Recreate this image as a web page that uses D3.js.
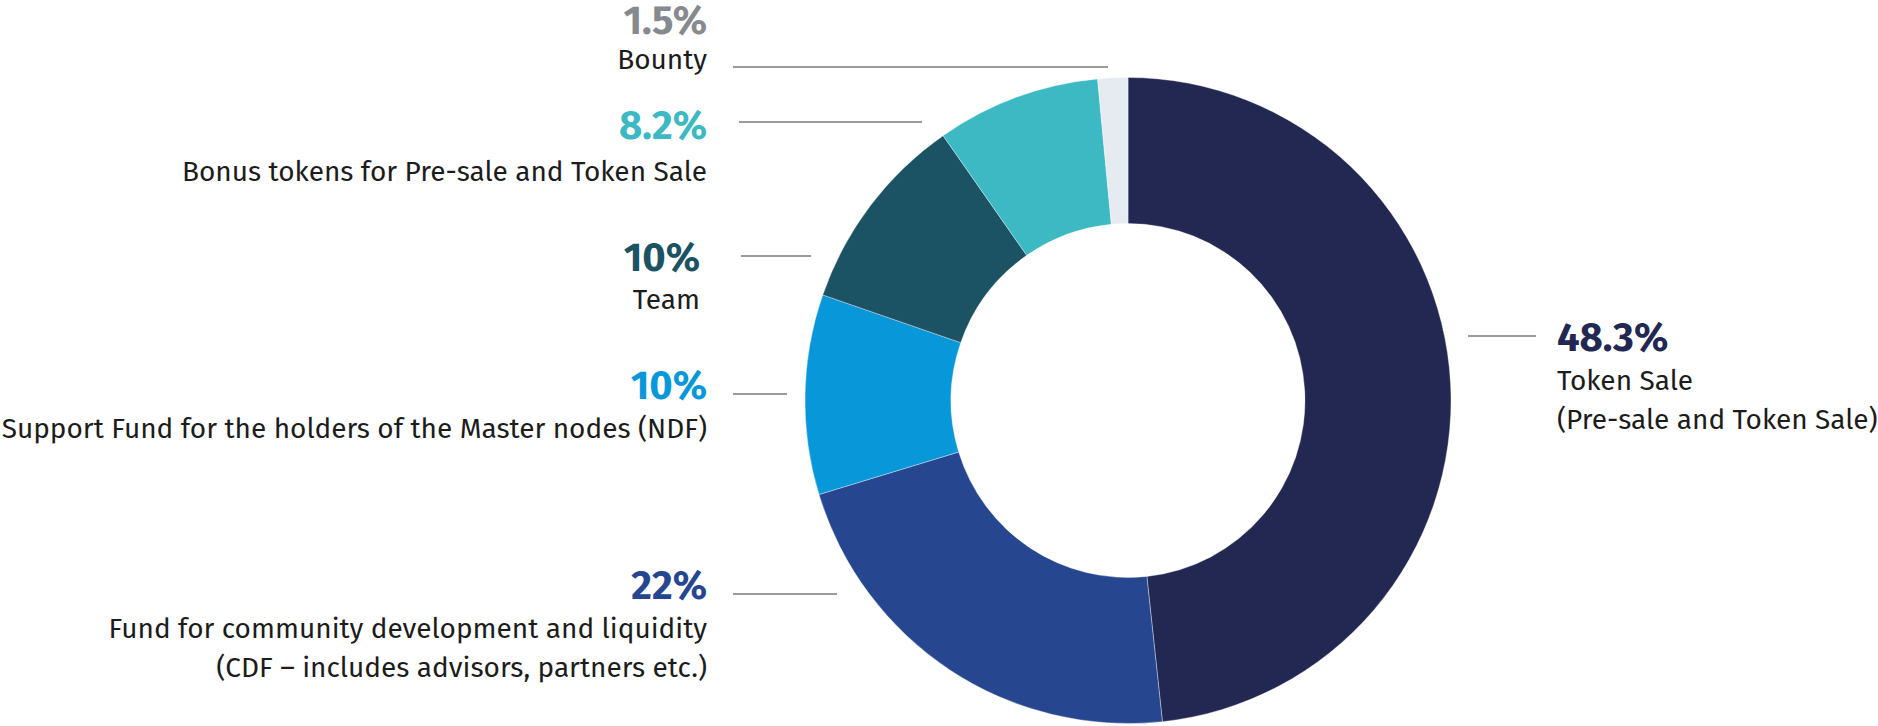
<!DOCTYPE html>
<html>
<head>
<meta charset="utf-8">
<script src="https://cdn.jsdelivr.net/npm/d3@7"></script>
<style>
  html, body { margin: 0; padding: 0; background: #ffffff; }
  svg { display: block; }
  text { font-family: "Fira Sans", Lato, "Open Sans", sans-serif; }
</style>
</head>
<body>
<svg id="chart" width="1878" height="726"></svg>
<script>
// ---- data ----
const categories = [
  "Token Sale",
  "Fund for community development and liquidity",
  "Support Fund for the holders of the Master nodes (NDF)",
  "Team",
  "Bonus tokens for Pre-sale and Token Sale",
  "Bounty"
];
const values = [48.3, 22, 10, 10, 8.2, 1.5];
const percentLabels = ["48.3%", "22%", "10%", "10%", "8.2%", "1.5%"];
const labelLines = [
  ["Token Sale", "(Pre-sale and Token Sale)"],
  ["Fund for community development and liquidity", "(CDF – includes advisors, partners etc.)"],
  ["Support Fund for the holders of the Master nodes (NDF)"],
  ["Team"],
  ["Bonus tokens for Pre-sale and Token Sale"],
  ["Bounty"]
];

// ---- styles ----
const sliceColors = ["#222852", "#26468f", "#0897d8", "#1b5364", "#3cb9c3", "#e5ebf0"];
const pctColors   = ["#222852", "#26468f", "#0897d8", "#1b5364", "#3cb9c3", "#868a8e"];

// ---- layout (label anchors & leader lines) ----
const layout = [
  { side: "right", x: 1557, y: 351, gap: 39, lineX1: 1468, lineX2: 1536, lineY: 336 },
  { side: "left",  x: 707,  y: 599, gap: 39, lineX1: 733,  lineX2: 837,  lineY: 594 },
  { side: "left",  x: 707,  y: 399, gap: 39, lineX1: 733,  lineX2: 787,  lineY: 394 },
  { side: "left",  x: 700,  y: 271, gap: 38, lineX1: 741,  lineX2: 811,  lineY: 256 },
  { side: "left",  x: 707,  y: 139, gap: 42, lineX1: 739,  lineX2: 922,  lineY: 122 },
  { side: "left",  x: 707,  y: 34,  gap: 35, lineX1: 733,  lineX2: 1108, lineY: 67 }
];

const cx = 1128, cy = 400.5, outerR = 323, innerR = 177;
const pctSize = 40, labelSize = 28;

const svg = d3.select("#chart");
const g = svg.append("g").attr("transform", `translate(${cx},${cy})`);

const pie = d3.pie().sort(null).value(d => d).startAngle(0).endAngle(2 * Math.PI);
const arc = d3.arc().innerRadius(innerR).outerRadius(outerR);

g.selectAll("path.slice")
  .data(pie(values))
  .join("path")
  .attr("class", "slice")
  .attr("d", arc)
  .attr("fill", (d, i) => sliceColors[i])
  .attr("stroke", "#ffffff")
  .attr("stroke-opacity", 0.6)
  .attr("stroke-width", 0.6);

// leader lines
svg.selectAll("line.leader")
  .data(layout)
  .join("line")
  .attr("class", "leader")
  .attr("x1", d => d.lineX1)
  .attr("x2", d => d.lineX2)
  .attr("y1", d => d.lineY)
  .attr("y2", d => d.lineY)
  .attr("stroke", "#9b9b9b")
  .attr("stroke-width", 2);

// labels
const groups = svg.selectAll("g.lab")
  .data(categories)
  .join("g")
  .attr("class", "lab");

groups.each(function (c, i) {
  const L = layout[i];
  const anchor = L.side === "left" ? "end" : "start";
  const sel = d3.select(this);
  sel.append("text")
    .attr("x", L.x)
    .attr("y", L.y)
    .attr("text-anchor", anchor)
    .attr("font-size", pctSize)
    .attr("font-weight", 700)
    .attr("fill", pctColors[i])
    .text(percentLabels[i]);
  labelLines[i].forEach((t, k) => {
    sel.append("text")
      .attr("x", L.x)
      .attr("y", L.y + L.gap + 39 * k)
      .attr("text-anchor", anchor)
      .attr("font-size", labelSize)
      .attr("font-weight", 400)
      .attr("fill", "#1c1c1c")
      .text(t);
  });
});
</script>
</body>
</html>
